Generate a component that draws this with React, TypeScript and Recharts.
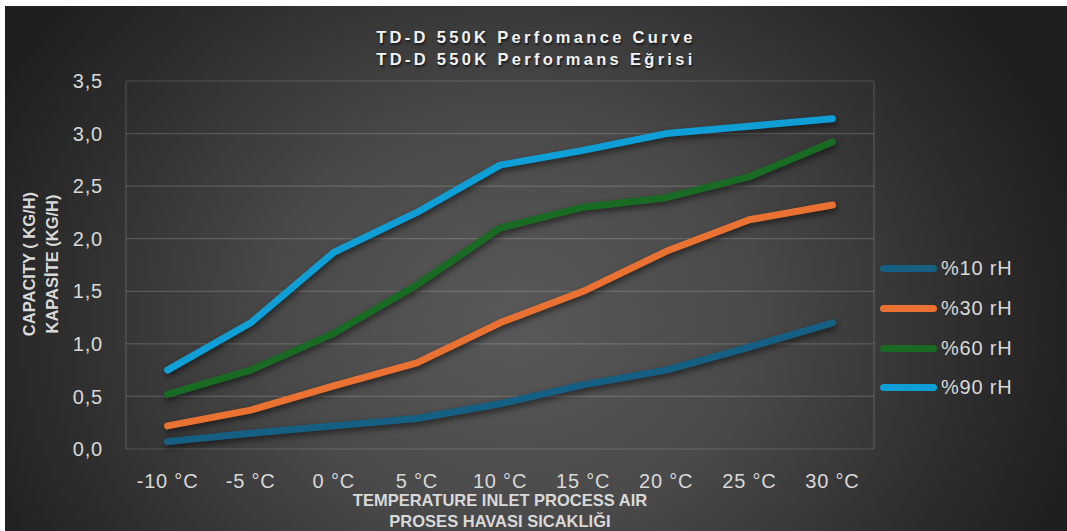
import { LineChart, Line, XAxis, YAxis, CartesianGrid } from 'recharts';

// inlet temperature (°C) categories
const TEMPS = [-10, -5, 0, 5, 10, 15, 20, 25, 30];

// capacity (kg/h) per relative humidity
const RH10 = [0.07, 0.15, 0.22, 0.29, 0.43, 0.61, 0.75, 0.97, 1.2];
const RH30 = [0.22, 0.37, 0.6, 0.82, 1.2, 1.5, 1.88, 2.18, 2.32];
const RH60 = [0.52, 0.75, 1.1, 1.56, 2.1, 2.3, 2.39, 2.59, 2.92];
const RH90 = [0.75, 1.2, 1.87, 2.25, 2.7, 2.84, 3.0, 3.07, 3.14];

const SERIES_KEYS = ['rh10', 'rh30', 'rh60', 'rh90'];
const SERIES_NAMES = ['%10 rH', '%30 rH', '%60 rH', '%90 rH'];
const SERIES_COLORS = ['#156082', '#E97132', '#196B24', '#0F9ED5'];

const Y_TICKS = [0, 0.5, 1, 1.5, 2, 2.5, 3, 3.5];

const data = TEMPS.map((t, i) => ({
  t,
  rh10: RH10[i],
  rh30: RH30[i],
  rh60: RH60[i],
  rh90: RH90[i],
}));

// category boundaries (Excel style "between tick marks")
const STEP = 5;
const BOUNDS = [...TEMPS.map((t) => t - STEP / 2), TEMPS[TEMPS.length - 1] + STEP / 2];
const DOMAIN: [number, number] = [BOUNDS[0], BOUNDS[BOUNDS.length - 1]];

const W = 1062;
const H = 525;
const TEXT = '#d9d9d9';
const GRID = 'rgba(255,255,255,0.17)';
const FONT = '"Liberation Sans", Arial, sans-serif';

const fmtY = (v: number) => v.toFixed(1).replace('.', ',');
const fmtX = (v: number) => `${v} °C`;

export default function App() {
  return (
    <div
      style={{
        position: 'relative',
        width: W,
        height: H,
        marginLeft: 5,
        marginTop: 6,
        fontFamily: FONT,
        background:
          'radial-gradient(ellipse 55% 95% at 48% 60%, #595959 0%, #4a4a4a 40%, #2c2c2c 80%, #1f1f1f 100%)',
      }}
    >
      <style>{`
        body { margin: 0; }
        .recharts-line-curve { filter: drop-shadow(1px 3px 3px rgba(0,0,0,0.55)); }
      `}</style>

      <LineChart width={W} height={H} data={data} margin={{ top: 75, right: 193, left: 0, bottom: 42 }}>
        <CartesianGrid xAxisId="grid" stroke={GRID} strokeWidth={1.2} />
        <XAxis
          xAxisId="grid"
          dataKey="t"
          type="number"
          domain={DOMAIN}
          allowDataOverflow
          ticks={BOUNDS}
          tick={false}
          tickLine={{ stroke: GRID, strokeWidth: 1.2 }}
          tickSize={7}
          axisLine={false}
          height={0}
        />
        <XAxis
          xAxisId="main"
          dataKey="t"
          type="number"
          domain={DOMAIN}
          allowDataOverflow
          ticks={TEMPS}
          tickFormatter={fmtX}
          tickLine={false}
          tickSize={0}
          tickMargin={25}
          axisLine={false}
          height={40}
          interval={0}
          tick={{ fill: TEXT, fontSize: 20, letterSpacing: 0.8, fontFamily: FONT }}
        />
        <YAxis
          domain={[0, 3.5]}
          ticks={Y_TICKS}
          tickFormatter={fmtY}
          tickLine={false}
          tickSize={0}
          tickMargin={23}
          axisLine={false}
          width={121}
          interval={0}
          tick={{ fill: TEXT, fontSize: 20, letterSpacing: 0.8, fontFamily: FONT }}
        />
        {SERIES_KEYS.map((k, i) => (
          <Line
            key={k}
            xAxisId="main"
            type="linear"
            dataKey={k}
            name={SERIES_NAMES[i]}
            stroke={SERIES_COLORS[i]}
            strokeWidth={7}
            strokeLinecap="round"
            strokeLinejoin="round"
            dot={false}
            activeDot={false}
            isAnimationActive={false}
          />
        ))}
      </LineChart>

      {/* chart title */}
      <div
        style={{
          position: 'absolute',
          left: 0,
          width: W,
          top: 20,
          textAlign: 'center',
          color: '#f2f2f2',
          fontWeight: 700,
          fontSize: 16.5,
          letterSpacing: 3.3,
          lineHeight: '22px',
          textShadow: '1px 2px 2px rgba(0,0,0,0.6)',
        }}
      >
        <div>TD-D 550K Perfomance Curve</div>
        <div>TD-D 550K Performans Eğrisi</div>
      </div>

      {/* x axis title */}
      <div
        style={{
          position: 'absolute',
          left: 121,
          width: 748,
          top: 484,
          textAlign: 'center',
          color: TEXT,
          fontWeight: 700,
          fontSize: 16.5,
          lineHeight: '21px',
        }}
      >
        <div>TEMPERATURE INLET PROCESS AIR</div>
        <div>PROSES HAVASI SICAKLIĞI</div>
      </div>

      {/* y axis title */}
      <div
        style={{
          position: 'absolute',
          left: 35.5 - 150,
          top: 258 - 23,
          width: 300,
          height: 46,
          transform: 'rotate(-90deg)',
          textAlign: 'center',
          color: TEXT,
          fontWeight: 700,
          fontSize: 16.5,
          lineHeight: '23px',
        }}
      >
        <div>CAPACITY ( KG/H)</div>
        <div>KAPASİTE (KG/H)</div>
      </div>

      {/* legend */}
      <div style={{ position: 'absolute', left: 875, top: 243 }}>
        {SERIES_NAMES.map((n, i) => (
          <div key={n} style={{ display: 'flex', alignItems: 'center', height: 39.7 }}>
            <span
              style={{
                display: 'inline-block',
                width: 57,
                height: 7,
                borderRadius: 4,
                background: SERIES_COLORS[i],
                marginRight: 4,
              }}
            />
            <span style={{ color: TEXT, fontSize: 20, letterSpacing: 0.8 }}>{n}</span>
          </div>
        ))}
      </div>
    </div>
  );
}
